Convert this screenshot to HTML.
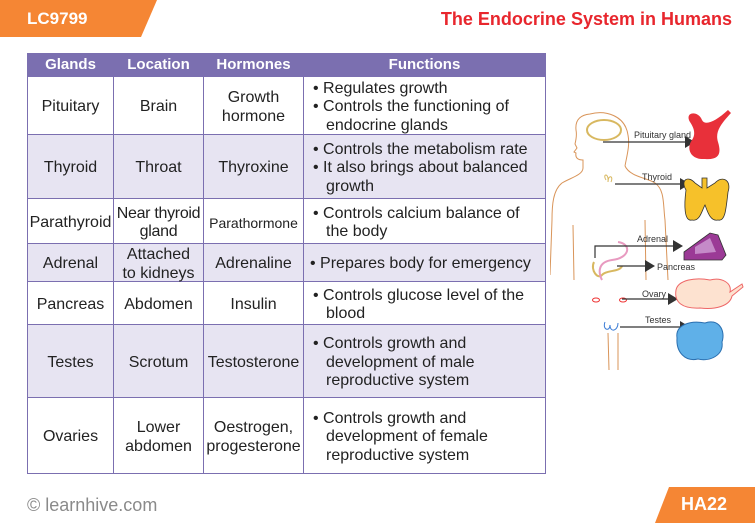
<!DOCTYPE html>
<html><head><meta charset="utf-8"><style>
body{margin:0;width:755px;height:523px;background:#fff;position:relative;overflow:hidden;font-family:"Liberation Sans",sans-serif;}
.a{position:absolute}
table{position:absolute;left:27px;top:53px;border-collapse:collapse;font-size:16px;color:#222;table-layout:fixed}
td,th{border:1px solid #7b6fb0;padding:0;text-align:center;line-height:18.5px;white-space:normal}
td>div.c{position:relative;top:2px}
th{background:#7b6fb0;color:#fff;height:22px;font-size:15px}
tr.l td{background:#e7e4f2}
td.f{text-align:left;padding-left:9px}
td.f div div{padding-left:13px;text-indent:-13px}
</style></head><body>
<svg class="a" style="left:0;top:0" width="160" height="37"><polygon points="0,0 157,0 141,37 0,37" fill="#f58634"/></svg>
<div class="a" style="left:27px;top:9px;color:#fff;font-weight:bold;font-size:17px">LC9799</div>
<div class="a" style="right:23px;top:9px;color:#e8262d;font-weight:bold;font-size:18px">The Endocrine System in Humans</div>
<table>
<colgroup><col style="width:86px"><col style="width:90px"><col style="width:100px"><col style="width:242px"></colgroup>
<tr><th>Glands</th><th>Location</th><th>Hormones</th><th>Functions</th></tr>
<tr style="height:58px"><td><div class="c">Pituitary</div></td><td><div class="c">Brain</div></td><td><div class="c">Growth<br>hormone</div></td><td class="f"><div class="c"><div>• Regulates growth</div><div>• Controls the functioning of endocrine glands</div></div></td></tr>
<tr class="l" style="height:64px"><td><div class="c">Thyroid</div></td><td><div class="c">Throat</div></td><td><div class="c">Thyroxine</div></td><td class="f"><div class="c"><div>• Controls the metabolism rate</div><div>• It also brings about balanced growth</div></div></td></tr>
<tr style="height:45px"><td><div class="c">Parathyroid</div></td><td style="letter-spacing:-0.3px"><div class="c">Near thyroid<br>gland</div></td><td style="font-size:14px"><div class="c">Parathormone</div></td><td class="f"><div class="c"><div>• Controls calcium balance of the body</div></div></td></tr>
<tr class="l" style="height:38px"><td><div class="c">Adrenal</div></td><td><div class="c">Attached<br>to kidneys</div></td><td><div class="c">Adrenaline</div></td><td class="f" style="padding-left:6px"><div class="c"><div>• Prepares body for emergency</div></div></td></tr>
<tr style="height:43px"><td><div class="c">Pancreas</div></td><td><div class="c">Abdomen</div></td><td><div class="c">Insulin</div></td><td class="f"><div class="c"><div>• Controls glucose level of the blood</div></div></td></tr>
<tr class="l" style="height:73px"><td><div class="c">Testes</div></td><td><div class="c">Scrotum</div></td><td><div class="c">Testosterone</div></td><td class="f"><div class="c"><div>• Controls growth and development of male reproductive system</div></div></td></tr>
<tr style="height:76px"><td><div class="c">Ovaries</div></td><td><div class="c">Lower<br>abdomen</div></td><td><div class="c">Oestrogen,<br>progesterone</div></td><td class="f"><div class="c"><div>• Controls growth and development of female reproductive system</div></div></td></tr>
</table>
<svg class="a" style="left:550px;top:80px" width="205" height="290" font-family="Liberation Sans" font-size="9" fill="#333">
<g fill="none" stroke="#d9955a" stroke-width="1">
<path d="M33,88 C33,95 20,98 12,103 C3,110 2,125 2,140 L0,195"/>
<path d="M75,86 C80,97 98,98 105,103 C115,110 113,125 115,140 L118,200"/>
<path d="M33,88 L33,80 C28,80 25,78 26,73 L24,72 L27,68 L25,64 C26,60 27,55 26,50 C25,40 30,35 40,34 C55,30 75,35 78,55 C80,65 77,75 75,86"/>
<path d="M23,145 L24,200 M95,140 L96,200 M58,253 L59,290 M68,253 L68,290"/>
</g>
<ellipse cx="54" cy="50" rx="17" ry="10" fill="none" stroke="#d8b860" stroke-width="2"/>
<path d="M56,100 c-4,-6 3,-8 2,2 c0,-8 6,-6 3,0" stroke="#d8b860" fill="none"/>
<path d="M44,182 C40,190 48,200 52,195 C56,190 70,192 72,186" stroke="#d8b860" fill="none" stroke-width="2"/>
<path d="M68,162 C82,164 80,178 62,180 C48,182 48,192 52,200" stroke="#e89ac0" fill="none" stroke-width="2"/>
<ellipse cx="46" cy="220" rx="3.5" ry="2" fill="none" stroke="#e33"/><ellipse cx="73" cy="220" rx="3.5" ry="2" fill="none" stroke="#e33"/>
<path d="M55,242 c-3,8 5,10 5,3 c0,8 8,6 8,-2" stroke="#3a7bd5" fill="none"/>
<g stroke="#333" stroke-width="1.2">
<line x1="53" y1="62" x2="136" y2="62"/><line x1="65" y1="104" x2="131" y2="104"/>
<path d="M45,178 V166 H125" fill="none"/><line x1="67" y1="186" x2="97" y2="186"/>
<line x1="72" y1="219" x2="120" y2="219"/><line x1="70" y1="247" x2="132" y2="247"/>
</g>
<g fill="#333"><polygon points="145,62 135,56 135,68"/><polygon points="140,104 130,98 130,110"/><polygon points="133,166 123,160 123,172"/><polygon points="105,186 95,180 95,192"/><polygon points="128,219 118,213 118,225"/><polygon points="140,247 130,241 130,253"/></g>
<text x="84" y="58">Pituitary gland</text><text x="92" y="100">Thyroid</text><text x="87" y="162">Adrenal</text><text x="107" y="190">Pancreas</text><text x="92" y="217">Ovary</text><text x="95" y="243">Testes</text>
<path d="M140,42 C134,32 148,30 152,40 C155,46 165,42 178,30 L181,33 C170,45 165,52 168,62 C172,75 168,80 155,79 C140,80 136,68 142,60 C146,54 144,48 140,42Z" fill="#e8303a"/>
<path d="M136,110 C130,100 138,95 145,103 L152,108 V98 H157 V108 L165,103 C172,95 182,100 178,112 C176,130 175,142 168,140 C160,142 157,130 155,125 C152,130 150,142 142,140 C134,142 134,125 136,110Z" fill="#f6c12a" stroke="#333" stroke-width="0.8"/>
<path d="M134,172 L160,153 L168,155 L176,175 L172,180 L134,180Z" fill="#9b3a96" stroke="#333" stroke-width="0.8"/>
<path d="M145,167 L160,158 L166,172 L145,174Z" fill="#c58ac8"/>
<path d="M126,210 C128,200 145,197 160,200 C172,197 182,203 180,212 L192,204 L193,207 L182,216 C180,226 165,230 150,228 C132,229 124,222 126,210Z" fill="#fde2d0" stroke="#e66"/>
<path d="M127,258 C125,245 140,240 155,243 C168,238 176,250 172,262 C174,275 160,282 148,279 C135,282 126,272 127,258Z" fill="#5fb0e8" stroke="#2a6fb0"/>
</svg>
<div class="a" style="left:27px;top:495px;color:#8a8a8a;font-size:18px">© learnhive.com</div>
<svg class="a" style="left:655px;top:487px" width="100" height="36"><polygon points="14,0 100,0 100,36 0,36" fill="#f58634"/></svg>
<div class="a" style="left:681px;top:494px;color:#fff;font-weight:bold;font-size:18px">HA22</div>
</body></html>
